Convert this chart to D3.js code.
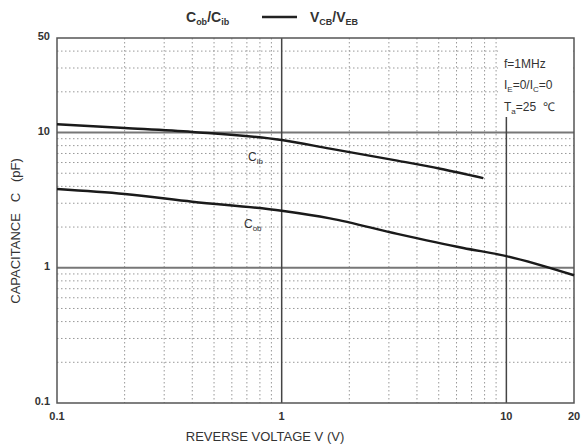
<!DOCTYPE html>
<meta charset="utf-8">
<script src="https://d3js.org/d3.v7.min.js"></script>
<style>
  body { margin: 0; background: #fff; }
  text { font-family: "Liberation Sans", Arial, sans-serif; fill: #333; }
</style>
<div id="my_dataviz"></div>
<script>

  // data
  var voltageCib = [0.1, 0.2, 0.4, 1, 1.64, 3.27, 5.08, 7.9];
  var capCib = [11.5, 10.8, 10.1, 8.8, 7.6, 6.2, 5.4, 4.6];
  var voltageCob = [0.1, 0.2, 0.4, 1, 1.64, 3.27, 6.43, 10, 20];
  var capCob = [3.82, 3.51, 3.08, 2.64, 2.32, 1.78, 1.4, 1.22, 0.88];

  var xTicks = [0.1, 1, 10, 20];
  var xTickLabels = ["0.1", "1", "10", "20"];
  var yTicks = [0.1, 1, 10, 50];
  var yTickLabels = ["0.1", "1", "10", "50"];
  var xMinor = [0.2, 0.3, 0.4, 0.5, 0.6, 0.7, 0.8, 0.9, 2, 3, 4, 5, 6, 7, 8, 9];
  var yMinor = [0.2, 0.3, 0.4, 0.5, 0.6, 0.7, 0.8, 0.9, 2, 3, 4, 5, 6, 7, 8, 9, 20, 30, 40];
  var xMajor = [1, 10];
  var yMajor = [1, 10];

  var margin = { top: 38, right: 13, bottom: 42, left: 57 },
    width = 587 - margin.left - margin.right,
    height = 445 - margin.top - margin.bottom;

  var svg = d3.select("#my_dataviz")
    .append("svg")
    .attr("width", 587)
    .attr("height", 445);

  var g = svg.append("g")
    .attr("transform", "translate(" + margin.left + "," + margin.top + ")");

  var x = d3.scaleLog().domain([0.1, 20]).range([0, width]);
  var y = d3.scaleLog().domain([0.1, 50]).range([height, 0]);

  // dotted minor grid
  g.selectAll(".hminor").data(yMinor).enter().append("line")
    .attr("x1", 0).attr("x2", width)
    .attr("y1", function (d) { return y(d); }).attr("y2", function (d) { return y(d); })
    .attr("stroke", "#999").attr("stroke-width", 1).attr("stroke-dasharray", "1.5,2.5");
  g.selectAll(".vminor").data(xMinor).enter().append("line")
    .attr("y1", 0).attr("y2", height)
    .attr("x1", function (d) { return x(d); }).attr("x2", function (d) { return x(d); })
    .attr("stroke", "#999").attr("stroke-width", 1).attr("stroke-dasharray", "1.5,2.5");

  // white box behind the conditions text
  g.append("rect")
    .attr("x", x(9) + 2).attr("y", 2)
    .attr("width", width - x(9) - 3).attr("height", y(13) - 2)
    .attr("fill", "#fff");

  // major grid
  g.selectAll(".hmajor").data(yMajor).enter().append("line")
    .attr("x1", 0).attr("x2", width)
    .attr("y1", function (d) { return y(d); }).attr("y2", function (d) { return y(d); })
    .attr("stroke", "#777").attr("stroke-width", 2);
  g.selectAll(".vmajor").data(xMajor).enter().append("line")
    .attr("y1", function (d) { return d === 10 ? y(13) : 0; }).attr("y2", height)
    .attr("x1", function (d) { return x(d); }).attr("x2", function (d) { return x(d); })
    .attr("stroke", "#444").attr("stroke-width", 1.5);

  // frame
  g.append("rect")
    .attr("width", width).attr("height", height)
    .attr("fill", "none").attr("stroke", "#555").attr("stroke-width", 1.5);

  // curves
  var line = d3.line()
    .x(function (d) { return x(d[0]); })
    .y(function (d) { return y(d[1]); })
    .curve(d3.curveMonotoneX);

  g.append("path")
    .datum(d3.zip(voltageCib, capCib))
    .attr("fill", "none").attr("stroke", "#1a1a1a").attr("stroke-width", 2.4)
    .attr("d", line);
  g.append("path")
    .datum(d3.zip(voltageCob, capCob))
    .attr("fill", "none").attr("stroke", "#1a1a1a").attr("stroke-width", 2.4)
    .attr("d", line);

  // tick labels
  g.selectAll(".xlab").data(xTicks).enter().append("text")
    .attr("x", function (d) { return x(d); })
    .attr("y", height + 17)
    .attr("text-anchor", "middle")
    .style("font-size", "11px").style("font-weight", "bold")
    .text(function (d, i) { return xTickLabels[i]; });
  g.selectAll(".ylab").data(yTicks).enter().append("text")
    .attr("x", -7)
    .attr("y", function (d) { return y(d); })
    .attr("dy", "0.2em")
    .attr("text-anchor", "end")
    .style("font-size", "11px").style("font-weight", "bold")
    .text(function (d, i) { return yTickLabels[i]; });

  // axis titles
  svg.append("text")
    .attr("x", 265).attr("y", 441)
    .attr("text-anchor", "middle")
    .style("font-size", "13px")
    .text("REVERSE VOLTAGE V (V)");
  svg.append("text")
    .attr("transform", "translate(20,231) rotate(-90)")
    .attr("text-anchor", "middle")
    .style("font-size", "13px")
    .attr("xml:space", "preserve")
    .text("CAPACITANCE   C   (pF)");

  // title legend
  var title = svg.append("text").attr("y", 22).style("font-size", "14px").style("font-weight", "bold");
  title.append("tspan").attr("x", 186).text("C");
  title.append("tspan").attr("dy", 3).style("font-size", "9px").text("ob");
  title.append("tspan").attr("dy", -3).text("/C");
  title.append("tspan").attr("dy", 3).style("font-size", "9px").text("ib");
  svg.append("line")
    .attr("x1", 262).attr("x2", 297).attr("y1", 17).attr("y2", 17)
    .attr("stroke", "#222").attr("stroke-width", 2.5);
  var title2 = svg.append("text").attr("y", 22).style("font-size", "14px").style("font-weight", "bold");
  title2.append("tspan").attr("x", 310).text("V");
  title2.append("tspan").attr("dy", 3).style("font-size", "9px").text("CB");
  title2.append("tspan").attr("dy", -3).text("/V");
  title2.append("tspan").attr("dy", 3).style("font-size", "9px").text("EB");

  // conditions
  var cond = svg.append("g").style("font-size", "12px");
  cond.append("text").attr("x", 504).attr("y", 68).text("f=1MHz");
  var c2 = cond.append("text").attr("x", 504).attr("y", 89);
  c2.append("tspan").text("I");
  c2.append("tspan").attr("dy", 3).style("font-size", "8px").text("E");
  c2.append("tspan").attr("dy", -3).text("=0/I");
  c2.append("tspan").attr("dy", 3).style("font-size", "8px").text("C");
  c2.append("tspan").attr("dy", -3).text("=0");
  var c3 = cond.append("text").attr("x", 504).attr("y", 111).attr("xml:space", "preserve");
  c3.append("tspan").text("T");
  c3.append("tspan").attr("dy", 3).style("font-size", "8px").text("a");
  c3.append("tspan").attr("dy", -3).text("=25  \u2103");

  // curve labels
  var l1 = svg.append("text").attr("x", 248).attr("y", 161).style("font-size", "12px");
  l1.append("tspan").text("C");
  l1.append("tspan").attr("dy", 3).style("font-size", "8px").text("ib");
  var l2 = svg.append("text").attr("x", 244).attr("y", 228).style("font-size", "12px");
  l2.append("tspan").text("C");
  l2.append("tspan").attr("dy", 3).style("font-size", "8px").text("ob");

</script>
